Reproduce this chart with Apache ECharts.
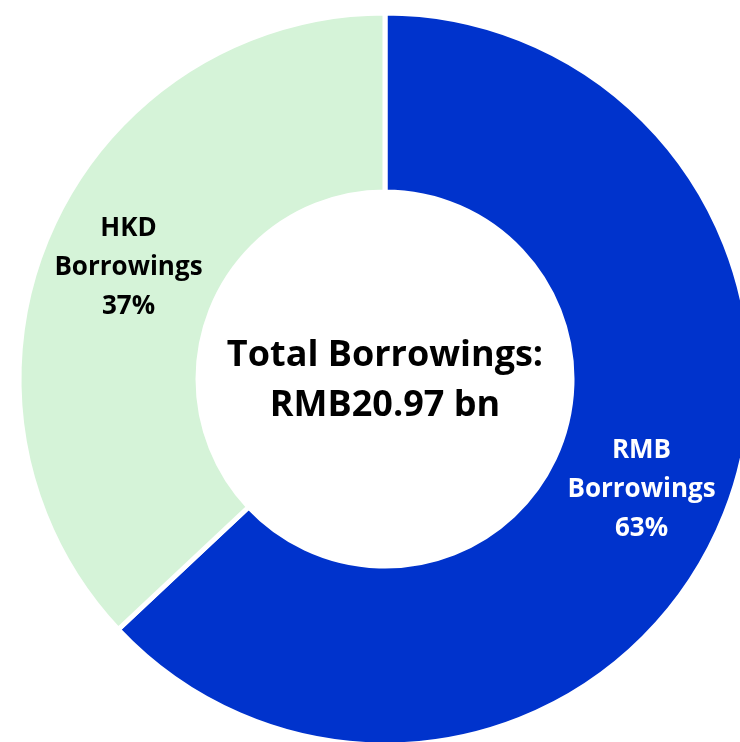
<!DOCTYPE html>
<html>
<head>
<meta charset="utf-8">
<script src="https://cdn.jsdelivr.net/npm/echarts@6/dist/echarts.min.js"></script>
<style>
  html, body { margin: 0; padding: 0; background: #ffffff; }
  #chart { width: 740px; height: 742px; }
</style>
</head>
<body>
<div id="chart"></div>
<script>
// Borrowings split by currency (percent of total)
const categories = ['RMB\nBorrowings', 'HKD\nBorrowings'];
const shares = [63, 37];
const sliceColors = ['#0033cc', '#d5f3d8'];
const labelColors = ['#ffffff', '#000000'];
const centerLines = ['Total Borrowings:', 'RMB20.97 bn'];

const chart = echarts.init(document.getElementById('chart'), null, { renderer: 'canvas' });

const FONT = '"Open Sans", Lato, sans-serif';

chart.setOption({
  animation: false,
  backgroundColor: '#ffffff',
  series: [{
    type: 'pie',
    center: [385, 379],
    radius: [187, 366],
    startAngle: 90,
    clockwise: true,
    avoidLabelOverlap: false,
    itemStyle: { borderColor: '#ffffff', borderWidth: 5 },
    label: {
      show: true,
      position: 'inside',
      formatter: p => p.name + '\n' + p.value + '%',
      fontFamily: FONT,
      fontWeight: 'bold',
      fontSize: 26,
      lineHeight: 39,
      align: 'center'
    },
    labelLine: { show: false },
    emphasis: { disabled: true },
    data: categories.map((name, i) => ({
      name: name,
      value: shares[i],
      itemStyle: { color: sliceColors[i] },
      label: { color: labelColors[i] }
    }))
  }],
  graphic: [{
    type: 'text',
    x: 385,
    y: 381,
    style: {
      text: centerLines.join('\n'),
      fontFamily: FONT,
      fontWeight: 'bold',
      fontSize: 36,
      lineHeight: 50,
      fill: '#000000',
      align: 'center',
      verticalAlign: 'middle'
    }
  }]
});
</script>
</body>
</html>
